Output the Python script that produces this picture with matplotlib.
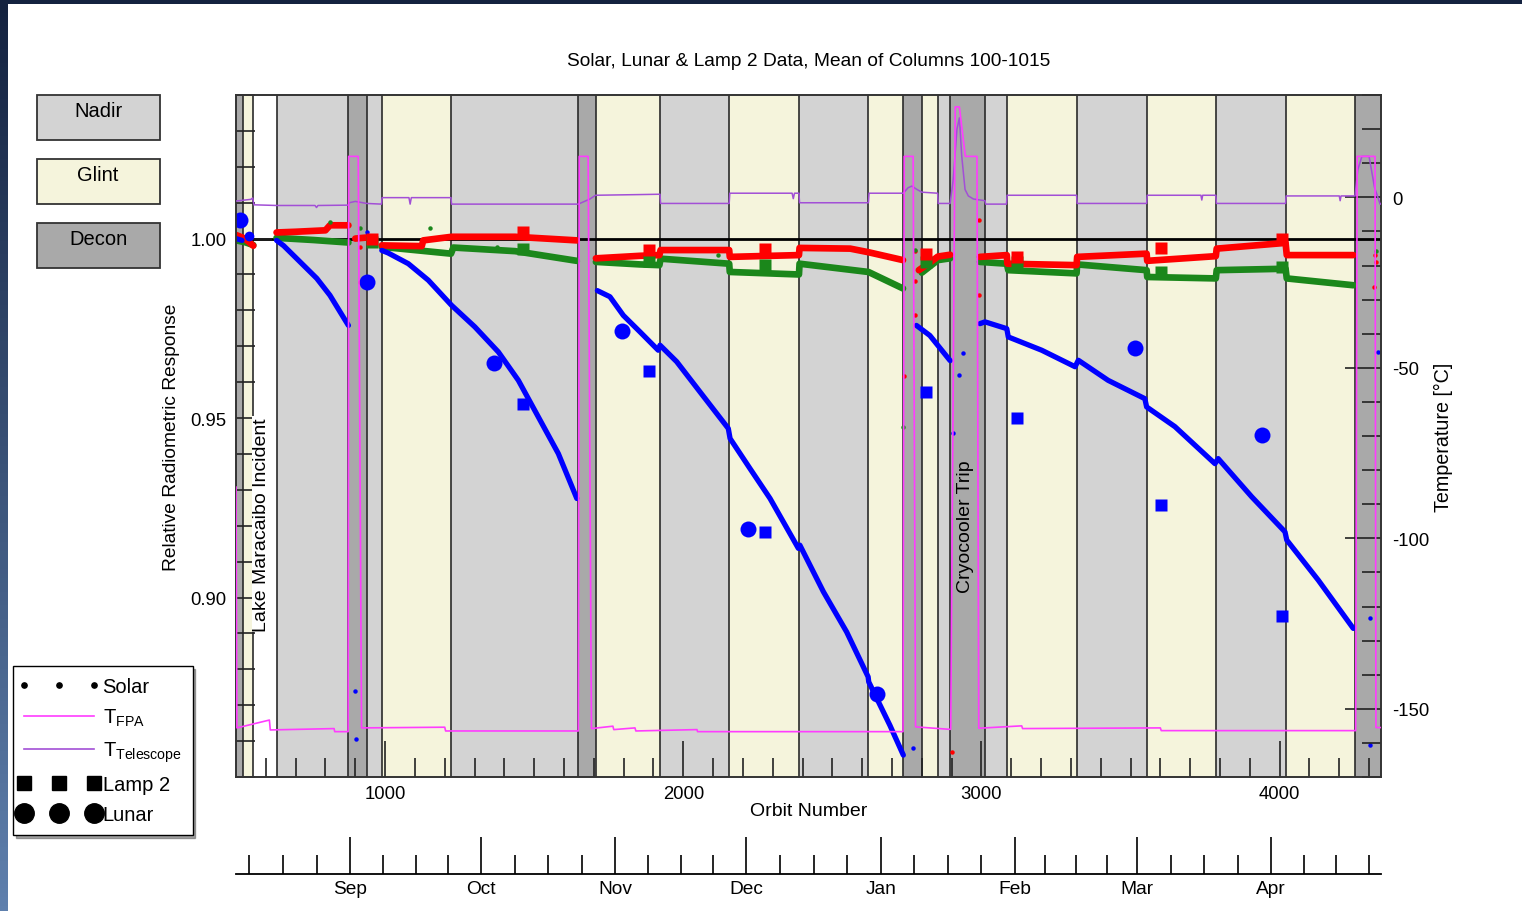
import numpy as np
import matplotlib
matplotlib.use('Agg')
import matplotlib.pyplot as plt
from matplotlib.lines import Line2D
from matplotlib.patches import Rectangle
from matplotlib.legend_handler import HandlerLine2D

plt.rcParams['font.family'] = ['Liberation Sans', 'DejaVu Sans']
plt.rcParams['mathtext.default'] = 'regular'
plt.rcParams['axes.unicode_minus'] = False

W, H = 1522, 912

# ---- observing mode bands (orbit ranges) ----
band_start = [500, 524, 558, 636, 877, 938, 989, 1221, 1648, 1706, 1922, 2154, 2388,
              2621, 2738, 2799, 2854, 2895, 3013, 3085, 3319, 3554, 3787, 4020, 4253]
band_end = band_start[1:] + [4340]
band_mode = ['Decon', 'Glint', 'None', 'Nadir', 'Decon', 'Nadir', 'Glint', 'Nadir', 'Decon',
             'Glint', 'Nadir', 'Glint', 'Nadir', 'Glint', 'Decon', 'Glint', 'Nadir', 'Decon',
             'Nadir', 'Glint', 'Nadir', 'Glint', 'Nadir', 'Glint', 'Decon']

# ---- solar data, one list of (orbit, response) per segment ----
red_solar = [
    [(500, 1.0010), (530, 1.0000), (558, 0.9980)],
    [(636, 1.0017), (700, 1.0019), (800, 1.0023), (815, 1.0037), (877, 1.0037)],
    [(900, 1.0000), (938, 1.0003)],
    [(989, 0.9981), (1123, 0.9979), (1128, 0.9995), (1223, 1.0005), (1436, 1.0005), (1643, 0.9995)],
    [(1707, 0.9945), (1855, 0.9952), (1920, 0.9954), (1924, 0.9968), (2154, 0.9968), (2156, 0.9949),
     (2388, 0.9954), (2390, 0.9974), (2560, 0.9972), (2621, 0.9962), (2737, 0.9940)],
    [(2790, 0.9912), (2830, 0.9935), (2854, 0.9950), (2895, 0.9955)],
    [(2995, 0.9949), (3085, 0.9954), (3087, 0.9930), (3319, 0.9926), (3321, 0.9949), (3554, 0.9958),
     (3556, 0.9938), (3786, 0.9951), (3789, 0.9972), (4020, 0.9988), (4024, 0.9954), (4247, 0.9954)],
]
green_solar = [
    [(500, 0.9995), (530, 0.9990), (558, 0.9982)],
    [(636, 1.0002), (760, 0.9996), (877, 0.9989)],
    [(989, 0.9977), (1221, 0.9958), (1229, 0.9975), (1436, 0.9965), (1643, 0.9938)],
    [(1707, 0.9935), (1855, 0.9928), (1920, 0.9926), (1924, 0.9944), (2154, 0.9930), (2156, 0.9907),
     (2388, 0.9900), (2390, 0.9930), (2621, 0.9907), (2737, 0.9861)],
    [(2800, 0.9905), (2854, 0.9940), (2895, 0.9945)],
    [(2995, 0.9935), (3085, 0.9930), (3090, 0.9912), (3319, 0.9903), (3321, 0.9928), (3554, 0.9912),
     (3556, 0.9893), (3786, 0.9889), (3789, 0.9912), (4020, 0.9916), (4024, 0.9889), (4247, 0.9870)],
]
blue_solar = [
    [(500, 1.0000), (520, 0.9995)],
    [(636, 0.9995), (660, 0.9980), (704, 0.9944), (771, 0.9889), (815, 0.9842), (877, 0.9758)],
    [(989, 0.9967), (1010, 0.9960), (1078, 0.9930), (1145, 0.9884), (1223, 0.9814), (1301, 0.9754),
     (1380, 0.9684), (1447, 0.9605), (1514, 0.9503), (1581, 0.9401), (1643, 0.9276)],
    [(1712, 0.9855), (1754, 0.9838), (1799, 0.9786), (1855, 0.9740), (1916, 0.9689), (1922, 0.9703),
     (1978, 0.9657), (2056, 0.9573), (2151, 0.9471), (2157, 0.9443), (2224, 0.9359), (2291, 0.9276),
     (2386, 0.9137), (2391, 0.9146), (2470, 0.9016), (2548, 0.8904), (2620, 0.8779), (2622, 0.8765),
     (2693, 0.8644), (2738, 0.8561)],
    [(2782, 0.9758), (2827, 0.9730), (2895, 0.9660)],
    [(2995, 0.9763), (3012, 0.9768), (3085, 0.9749), (3090, 0.9726), (3202, 0.9689), (3314, 0.9643),
     (3325, 0.9661), (3425, 0.9605), (3548, 0.9554), (3554, 0.9531), (3649, 0.9476), (3783, 0.9373),
     (3794, 0.9387), (3906, 0.9281), (4018, 0.9183), (4024, 0.9160), (4130, 0.9048), (4247, 0.8914)],
]

# scattered solar points (mostly during decons)
red_dots = [(916, 0.9977), (916, 0.9879), (2740, 0.9618), (2778, 0.9966), (2778, 0.9881),
            (2778, 0.9786), (2900, 0.8570), (2993, 1.0053), (2993, 0.9842), (4318, 0.9865),
            (4320, 0.9955), (4322, 0.9935)]
green_dots = [(816, 1.0047), (916, 1.0030), (1151, 1.0029), (1374, 0.9977), (2117, 0.9954),
              (2778, 0.9967), (2738, 0.9474), (4322, 0.9965)]
blue_dots = [(899, 0.8740), (902, 0.8605), (938, 1.0017), (2771, 0.8580), (2904, 0.9457),
             (2925, 0.9620), (2937, 0.9680), (4303, 0.8942), (4303, 0.8590), (4330, 0.9683)]

# lamp 2 and lunar
lamp_orbit = [955, 1463, 1886, 2273, 2814, 3118, 3602, 4009]
lamp_red = [1.0000, 1.0019, 0.9968, 0.9972, 0.9956, 0.9949, 0.9975, 1.0000]
lamp_green = [0.9990, 0.9972, 0.9938, 0.9926, 0.9935, 0.9935, 0.9907, 0.9921]
lamp_blue = [np.nan, 0.9540, 0.9631, 0.9183, 0.9573, 0.9499, 0.9259, 0.8948]

lunar_orbit = [513, 938, 1366, 1796, 2218, 2651, 3515, 3940]
lunar_blue = [1.0053, 0.9879, 0.9652, 0.9742, 0.9190, 0.8730, 0.9694, 0.9452]

# ---- temperatures [C] ----
fpa_orbit = [500, 503, 612, 615, 829, 831, 876, 878, 910, 921, 1200, 1203, 1648, 1651, 1681,
             1692, 1764, 1767, 1838, 1841, 2046, 2048, 2737, 2741, 2771, 2779, 2890, 2897,
             2912, 2926, 2946, 2985, 2991, 3135, 3138, 3600, 3603, 4255, 4260, 4320, 4323, 4340]
fpa_temp = [-85, -155.6, -153.3, -156.2, -155.8, -156.7, -156.7, 12, 12, -155.6, -155.4, -156.5,
            -156.5, 12, 12, -155.8, -155.1, -156.1, -155.6, -156.5, -156.1, -156.7, -156.7, 12,
            12, -155.3, -156.0, -156.0, 26.5, 26.5, 12, 12, -155.7, -155.0, -155.8, -155.6,
            -156.4, -156.4, 12, 12, -155.5, -155.5]

tel_orbit = [500, 550, 556, 560, 636, 765, 770, 775, 876, 880, 900, 938, 988, 990, 1080, 1084,
             1088, 1221, 1223, 1648, 1687, 1706, 1855, 1922, 1924, 2154, 2156, 2365, 2369, 2373,
             2388, 2390, 2621, 2623, 2738, 2754, 2767, 2780, 2800, 2853, 2855, 2895, 2905, 2918,
             2926, 2934, 2945, 2956, 2973, 3012, 3014, 3084, 3086, 3319, 3321, 3554, 3556, 3736,
             3739, 3742, 3786, 3788, 4020, 4022, 4200, 4203, 4206, 4253, 4262, 4276, 4300, 4318,
             4337, 4340]
tel_temp = [-1.1, -0.6, -0.2, -2.2, -2.4, -2.4, -3.0, -2.4, -2.3, -1.6, -1.2, -1.8, -2.0, -0.1,
            -0.1, -2.0, -0.1, -0.1, -2.0, -2.0, -0.5, 0.6, 0.8, 0.9, -1.8, -1.8, 1.2, 1.2, -0.4,
            1.2, 1.2, -1.6, -1.6, 1.2, 1.2, 2.8, 3.3, 2.5, 1.5, 1.2, -1.8, -1.8, 5.0, 20.0, 23.3,
            12.0, 2.3, 0.4, -0.5, -1.0, -2.0, -2.0, 0.6, 0.6, -1.8, -1.8, 0.6, 0.6, -0.8, 0.6,
            0.6, -1.8, -1.8, 0.4, 0.4, -1.0, 0.4, 0.4, 8.0, 12.0, 12.0, 3.0, -2.0, -2.0]

# ---- calendar axis ----
month_names = ['Sep', 'Oct', 'Nov', 'Dec', 'Jan', 'Feb', 'Mar', 'Apr']
month_orbit = [883, 1322, 1771, 2211, 2663, 3112, 3523, 3972]
month_bounds = [431] + month_orbit + [4409]   # Aug 1 ... May 1

band_color = {'Nadir': '#d3d3d3', 'Glint': '#f5f4dc', 'Decon': '#a9a9a9'}
RED, GREEN, BLUE = '#ff0000', '#1b871b', '#0000ff'
FPA_C, TEL_C = '#ff3cff', '#a24fd6'

fig = plt.figure(figsize=(W / 100, H / 100), dpi=100)
fig.patch.set_facecolor('white')

L, R, T, B = 236, 1381, 96, 778
ax = fig.add_axes([L / W, 1 - B / H, (R - L) / W, (B - T) / H])
ax.set_xlim(500, 4340)
ax.set_ylim(0.85, 1.04)

for s, e, m in zip(band_start, band_end, band_mode):
    if m != 'None':
        ax.axvspan(s, e, color=band_color[m], lw=0, zorder=0)
for s in band_start[1:]:
    ax.axvline(s, color='#2a2a2a', lw=1.2, zorder=0.5)
ax.axhline(1.0, color='black', lw=2.0, zorder=0.6)

for seg in green_solar:
    x, y = zip(*seg)
    ax.plot(x, y, color=GREEN, lw=4.8, solid_capstyle='round', zorder=2)
for seg in red_solar:
    x, y = zip(*seg)
    ax.plot(x, y, color=RED, lw=4.8, solid_capstyle='round', zorder=2.1)
for seg in blue_solar:
    x, y = zip(*seg)
    ax.plot(x, y, color=BLUE, lw=3.8, solid_capstyle='round', solid_joinstyle='round', zorder=2.2)
for pts, c in [(red_dots, RED), (green_dots, GREEN), (blue_dots, BLUE)]:
    x, y = zip(*pts)
    ax.plot(x, y, ls='none', marker='o', ms=3.2, mec='none', color=c, zorder=2.3)
ax.plot([545], [1.0007], ls='none', marker='o', ms=7, mec='none', color=BLUE, zorder=2.3)

ax.plot(lamp_orbit, lamp_green, ls='none', marker='s', ms=8.5, mec='none', color=GREEN, zorder=2.4)
ax.plot(lamp_orbit, lamp_red, ls='none', marker='s', ms=8.5, mec='none', color=RED, zorder=2.5)
ax.plot(lamp_orbit, lamp_blue, ls='none', marker='s', ms=8.5, mec='none', color=BLUE, zorder=2.5)
ax.plot(lunar_orbit, lunar_blue, ls='none', marker='o', ms=11.5, mec='none', color=BLUE, zorder=2.6)

ax.text(587, 0.9205, 'Lake Maracaibo Incident', rotation=90, ha='center', va='center',
        fontsize=14, zorder=3,
        bbox=dict(facecolor='white', edgecolor='none', pad=1))
ax.text(2948, 0.920, 'Cryocooler Trip', rotation=90, ha='center', va='center',
        fontsize=14, zorder=3)

ax.set_xticks([1000, 2000, 3000, 4000])
ax.set_xticks(np.arange(600, 4340, 100), minor=True)
ax.set_yticks([0.90, 0.95, 1.00])
ax.set_yticks(np.arange(0.85, 1.0401, 0.01), minor=True)
ax.set_yticklabels(['0.90', '0.95', '1.00'])
ax.tick_params(which='both', direction='in', width=1.2, labelsize=13.3, color='#222222',
               top=False, right=False)
ax.tick_params(which='major', length=26)
ax.tick_params(which='minor', length=13.5)
ax.tick_params(axis='x', pad=6)
ax.tick_params(axis='y', pad=7)
for sp in ax.spines.values():
    sp.set_linewidth(1.2)
    sp.set_color('#333333')

axT = ax.twinx()
axT.set_ylim(-170, 30)
axT.plot(tel_orbit, tel_temp, color=TEL_C, lw=1.1, zorder=3)
axT.plot(fpa_orbit, fpa_temp, color=FPA_C, lw=1.2, zorder=3)
axT.set_yticks([-150, -100, -50, 0])
axT.set_yticks(np.arange(-170, 31, 10), minor=True)
axT.tick_params(which='both', direction='in', width=1.2, labelsize=13.3, color='#222222', pad=8)
axT.tick_params(which='major', length=26)
axT.tick_params(which='minor', length=13.5)
for sp in axT.spines.values():
    sp.set_linewidth(1.2)
    sp.set_color('#333333')

# calendar axis below
axd = fig.add_axes([L / W, 1 - 875 / H, (R - L) / W, 0.0005])
axd.set_xlim(500, 4340)
axd.set_yticks([])
for k in ['left', 'right', 'top']:
    axd.spines[k].set_visible(False)
axd.spines['bottom'].set_linewidth(1.3)
axd.patch.set_alpha(0)
axd.set_xticks(month_orbit)
axd.set_xticklabels(month_names)
minor = []
for a, b in zip(month_bounds[:-1], month_bounds[1:]):
    minor += [a + (b - a) * q / 4 for q in (1, 2, 3)]
axd.set_xticks([m for m in minor if 500 < m < 4340], minor=True)
axd.tick_params(which='both', direction='in', width=1.2, labelsize=13.8, pad=4)
axd.tick_params(which='major', length=27)
axd.tick_params(which='minor', length=14)

fig.text(808.5 / W, 1 - 62 / H, 'Solar, Lunar & Lamp 2 Data, Mean of Columns 100-1015',
         ha='center', va='center', fontsize=13.8)
fig.text(808.5 / W, 1 - 812 / H, 'Orbit Number', ha='center', va='center', fontsize=14)
fig.text(171 / W, 1 - 437 / H, 'Relative Radiometric Response', rotation=90,
         ha='center', va='center', fontsize=13.8)
fig.text(1443 / W, 1 - 437 / H, 'Temperature [\u00b0C]', rotation=90,
         ha='center', va='center', fontsize=14.2)

# mode key boxes
for i, m in enumerate(['Nadir', 'Glint', 'Decon']):
    y0 = 96 + i * 64
    fig.add_artist(Rectangle((37 / W, 1 - (y0 + 45) / H), 123 / W, 45 / H,
                             transform=fig.transFigure, facecolor=band_color[m],
                             edgecolor='#333333', lw=1.3))
    fig.text(98 / W, 1 - (y0 + 16) / H, m, ha='center', va='center', fontsize=14.5)

handles = [
    Line2D([], [], ls='none', marker='o', ms=3.8, color='black'),
    Line2D([], [], color=FPA_C, lw=1.2),
    Line2D([], [], color=TEL_C, lw=1.2),
    Line2D([], [], ls='none', marker='s', ms=10, color='black'),
    Line2D([], [], ls='none', marker='o', ms=14, color='black'),
]
labels = ['Solar', 'T$_{FPA}$', 'T$_{Telescope}$', 'Lamp 2', 'Lunar']
leg = fig.legend(handles, labels, loc='upper left', bbox_to_anchor=(13 / W, 1 - 667 / H),
                 bbox_transform=fig.transFigure, numpoints=3, handlelength=3.45,
                 handletextpad=0.45, borderpad=0.55, labelspacing=0.55, fontsize=14.5,
                 frameon=True, fancybox=False, shadow=True, edgecolor='black',
                 framealpha=1, borderaxespad=0,
                 handler_map={Line2D: HandlerLine2D(marker_pad=0)})
leg.get_frame().set_linewidth(1.0)

# dark slide border
fig.add_artist(Rectangle((0, 1 - 5 / H), 1, 5 / H, transform=fig.transFigure,
                         facecolor='#14223f', edgecolor='none'))
axb = fig.add_axes([0, 0, 8 / W, 1])
axb.imshow(np.linspace(0, 1, 200).reshape(-1, 1), aspect='auto',
           cmap=matplotlib.colors.LinearSegmentedColormap.from_list('edge', ['#14223f', '#5f80ad']))
axb.set_axis_off()

fig.savefig('out.png', dpi=100)
